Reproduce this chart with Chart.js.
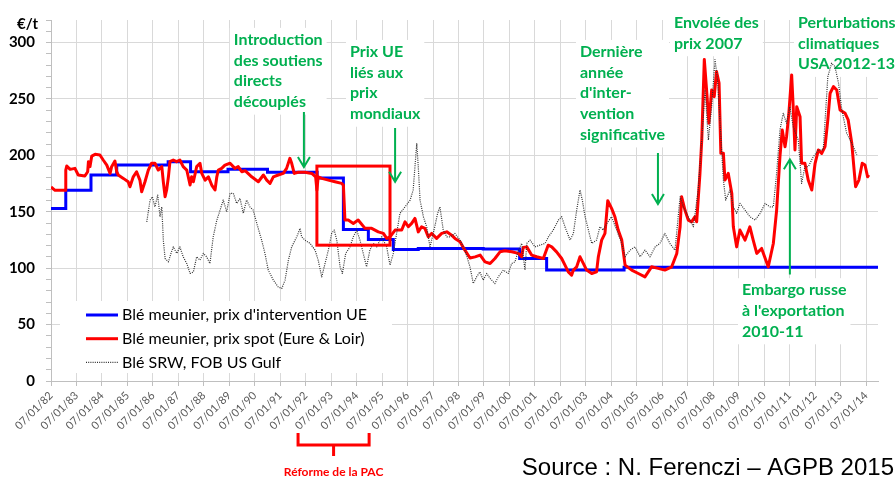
<!DOCTYPE html>
<html>
<head>
<meta charset="utf-8">
<script src="https://cdn.jsdelivr.net/npm/chart.js@4.4.0/dist/chart.umd.min.js"></script>
<style>
html, body { margin: 0; padding: 0; background: #fff; }
#wrap { width: 896px; height: 479px; position: relative; }
</style>
</head>
<body>
<div id="wrap"><canvas id="myChart"></canvas></div>
<script>
// tick labels, one per year (07/01/YY)
var tickLabels = ['07/01/82', '07/01/83', '07/01/84', '07/01/85', '07/01/86', '07/01/87', '07/01/88', '07/01/89',
    '07/01/90', '07/01/91', '07/01/92', '07/01/93', '07/01/94', '07/01/95', '07/01/96', '07/01/97', '07/01/98',
    '07/01/99', '07/01/00', '07/01/01', '07/01/02', '07/01/03', '07/01/04', '07/01/05', '07/01/06', '07/01/07',
    '07/01/08', '07/01/09', '07/01/10', '07/01/11', '07/01/12', '07/01/13', '07/01/14'];

// Blé meunier, prix d'intervention UE (step changes)
var interventionYears = [1982.0, 1982.58, 1983.57, 1984.58, 1986.6, 1987.48, 1988.95, 1990.5, 1992.45, 1993.48,
    1994.46, 1995.44, 1996.42, 1998.97, 2000.4, 2001.46, 2004.5, 2014.47];
var interventionPrices = [153, 169, 182.5, 191.5, 194.4, 185.5, 187.6, 185, 180, 134.4,
    125.5, 116.6, 117.5, 116.9, 108.5, 98.3, 100.8, 100.8];

// Blé meunier, prix spot (Eure & Loir)
var spotYears = [1982.0, 1982.16, 1982.55, 1982.58, 1982.62, 1982.75, 1982.94, 1983.07, 1983.33, 1983.44, 1983.47,
    1983.53, 1983.6, 1983.73, 1983.92, 1984.05, 1984.19, 1984.32, 1984.38, 1984.51, 1984.58, 1984.64, 1984.84,
    1985.03, 1985.1, 1985.23, 1985.36, 1985.49, 1985.56, 1985.69, 1985.82, 1985.95, 1986.08, 1986.21, 1986.35,
    1986.41, 1986.48, 1986.54, 1986.61, 1986.67, 1986.8, 1986.93, 1987.06, 1987.19, 1987.33, 1987.46, 1987.52,
    1987.59, 1987.72, 1987.85, 1987.92, 1988.05, 1988.18, 1988.31, 1988.44, 1988.51, 1988.57, 1988.7, 1988.83,
    1989.03, 1989.22, 1989.35, 1989.49, 1989.62, 1989.88, 1990.14, 1990.34, 1990.47, 1990.6, 1990.73, 1990.92,
    1991.12, 1991.25, 1991.38, 1991.45, 1991.55, 1991.71, 1991.97, 1992.24, 1992.39, 1992.44, 1992.49, 1992.63,
    1992.89, 1993.15, 1993.41, 1993.48, 1993.54, 1993.67, 1993.87, 1994.06, 1994.33, 1994.59, 1994.85, 1995.05,
    1995.18, 1995.31, 1995.51, 1995.77, 1995.9, 1996.03, 1996.16, 1996.29, 1996.42, 1996.55, 1996.68, 1996.81,
    1996.95, 1997.14, 1997.34, 1997.54, 1997.73, 1997.86, 1998.06, 1998.25, 1998.45, 1998.65, 1998.85, 1999.04,
    1999.24, 1999.43, 1999.63, 1999.82, 2000.09, 2000.35, 2000.48, 2000.54, 2000.68, 2000.87, 2001.07, 2001.33,
    2001.52, 2001.66, 2001.85, 2002.05, 2002.18, 2002.31, 2002.44, 2002.51, 2002.64, 2002.77, 2002.9, 2003.03,
    2003.23, 2003.42, 2003.49, 2003.62, 2003.75, 2003.86, 2004.01, 2004.14, 2004.27, 2004.41, 2004.54, 2004.8,
    2005.06, 2005.32, 2005.58, 2005.84, 2006.1, 2006.37, 2006.57, 2006.7, 2006.76, 2006.89, 2007.02, 2007.15,
    2007.28, 2007.35, 2007.48, 2007.55, 2007.65, 2007.74, 2007.83, 2007.94, 2008.04, 2008.13, 2008.23, 2008.3,
    2008.4, 2008.46, 2008.59, 2008.73, 2008.79, 2008.92, 2009.05, 2009.25, 2009.44, 2009.57, 2009.71, 2009.9,
    2010.16, 2010.36, 2010.49, 2010.62, 2010.71, 2010.82, 2010.88, 2010.97, 2011.08, 2011.14, 2011.21, 2011.28,
    2011.41, 2011.47, 2011.6, 2011.73, 2011.87, 2012.0, 2012.13, 2012.26, 2012.39, 2012.5, 2012.59, 2012.72,
    2012.85, 2012.98, 2013.18, 2013.3, 2013.44, 2013.59, 2013.72, 2013.85, 2013.96, 2014.06, 2014.11];
var spotPrices = [172, 169, 169, 187, 190.6, 187.6, 188.5, 182.6, 181.7, 185.5, 194.4,
    190, 199.4, 200.9, 200.3, 195.9, 191.4, 184, 190, 195, 185.5, 182.6, 179.6,
    176.6, 172.2, 181, 185.5, 178.1, 167.7, 176.6, 187, 193, 193, 187, 190,
    176.6, 163.3, 169.3, 181, 194.4, 195.9, 194.4, 195.9, 190, 187, 173.7, 181,
    176.6, 190, 193, 184, 178.1, 181, 173.7, 169.3, 181, 187, 188.5, 191.4,
    193, 188.5, 190, 185.5, 186.4, 181, 176.6, 182.6, 178.1, 175.2, 181, 182.6,
    184, 188.5, 197.4, 193, 184, 185, 185, 184, 181, 169.3, 181, 179.6,
    178.1, 176.6, 175.2, 173.7, 142.7, 142.7, 139.7, 142.7, 135.3, 135.3, 132.2, 130.8,
    126.4, 127.8, 133.8, 133.8, 141.1, 136.7, 139.7, 144.1, 132.2, 136.7, 135.3, 127.8,
    130.8, 126.4, 130.8, 132.2, 129.3, 126.4, 123.4, 116, 109, 110, 111.6, 105.6,
    104.2, 108.6, 114.5, 115.4, 114.5, 113.1, 110.1, 118.4, 118.9, 111.6, 110.1, 108.6,
    120.4, 118.9, 114.5, 108.6, 102.7, 96.7, 93.8, 98.3, 101.2, 110.1, 104.2, 98.3,
    95.3, 96.7, 110.1, 124.9, 130.8, 159.8, 153, 145.6, 133.8, 124.9, 102.7, 98.3,
    95.3, 92.3, 101.2, 99.8, 98.3, 101.2, 113.1, 136.7, 163.3, 151.5, 142.6, 141.1,
    145.6, 141.1, 184.1, 213.6, 285, 258, 228.5, 258, 252, 274.3, 264, 201.8,
    201.8, 178.1, 184.1, 166.3, 136.7, 118.9, 133.8, 124.9, 136.7, 124.9, 113.1, 117.5,
    101.2, 121.9, 151.5, 198.8, 222.5, 207.7, 216.6, 237.3, 271.3, 243.2, 204.8, 243.2,
    234.3, 193, 193, 178.1, 169.3, 193, 204.8, 201.8, 207.7, 231.4, 255.1, 260.9,
    258, 240.3, 237.3, 231.4, 210.7, 172.2, 178.1, 193, 191.5, 181, 182.6];

// Blé SRW, FOB US Gulf
var srwYears = [1985.76, 1985.89, 1985.98, 1986.08, 1986.19, 1986.28, 1986.35, 1986.41, 1986.48, 1986.61, 1986.71,
    1986.8, 1986.94, 1987.06, 1987.19, 1987.33, 1987.46, 1987.59, 1987.72, 1987.85, 1987.98, 1988.11, 1988.24,
    1988.37, 1988.51, 1988.64, 1988.76, 1988.9, 1989.03, 1989.16, 1989.29, 1989.42, 1989.55, 1989.68, 1989.81,
    1989.94, 1990.08, 1990.27, 1990.4, 1990.53, 1990.73, 1990.92, 1991.06, 1991.19, 1991.32, 1991.45, 1991.65,
    1991.78, 1991.84, 1991.97, 1992.17, 1992.37, 1992.49, 1992.63, 1992.76, 1992.89, 1993.02, 1993.12, 1993.22,
    1993.35, 1993.44, 1993.57, 1993.74, 1993.87, 1994.0, 1994.13, 1994.26, 1994.39, 1994.52, 1994.65, 1994.79,
    1994.98, 1995.18, 1995.31, 1995.44, 1995.57, 1995.7, 1995.9, 1996.1, 1996.22, 1996.36, 1996.42, 1996.49,
    1996.62, 1996.75, 1996.88, 1997.01, 1997.18, 1997.27, 1997.4, 1997.54, 1997.67, 1997.86, 1998.06, 1998.25,
    1998.45, 1998.58, 1998.71, 1998.84, 1998.97, 1999.11, 1999.24, 1999.43, 1999.56, 1999.76, 1999.95, 2000.09,
    2000.22, 2000.35, 2000.48, 2000.61, 2000.68, 2000.81, 2001.0, 2001.2, 2001.4, 2001.53, 2001.72, 2001.92,
    2002.05, 2002.18, 2002.38, 2002.51, 2002.64, 2002.77, 2002.86, 2002.97, 2003.1, 2003.23, 2003.42, 2003.55,
    2003.68, 2003.82, 2004.01, 2004.21, 2004.41, 2004.54, 2004.73, 2004.93, 2005.13, 2005.32, 2005.52, 2005.72,
    2005.91, 2006.1, 2006.3, 2006.5, 2006.7, 2006.83, 2007.02, 2007.22, 2007.41, 2007.55, 2007.68, 2007.81,
    2007.94, 2008.07, 2008.17, 2008.27, 2008.4, 2008.49, 2008.66, 2008.79, 2008.92, 2009.05, 2009.25, 2009.44,
    2009.64, 2009.84, 2010.04, 2010.23, 2010.36, 2010.49, 2010.62, 2010.75, 2010.88, 2011.01, 2011.14, 2011.34,
    2011.47, 2011.6, 2011.73, 2011.93, 2012.13, 2012.32, 2012.5, 2012.65, 2012.78, 2012.92, 2013.05, 2013.24,
    2013.44, 2013.64];
var srwPrices = [141, 160.4, 163.3, 154.4, 164.8, 145.6, 154.4, 124.9, 108.6, 105.6, 113.1,
    118.9, 113.1, 118.9, 110.1, 104.2, 95.3, 96.7, 110.1, 107.1, 113.1, 110.1, 104.2,
    127.8, 142.6, 151.5, 160.4, 150, 166.3, 166.3, 157.4, 161.9, 148.6, 160.4, 154.4,
    151.5, 139.7, 124.9, 113.1, 98.3, 89.4, 83.4, 82, 89.4, 107.1, 118.9, 127.8,
    135.3, 127.8, 124.9, 122, 116, 107.1, 92.3, 104.2, 116, 130.8, 133.8, 124.9,
    101.2, 95.3, 113.1, 118.9, 127.8, 133.8, 124.9, 113.1, 101.2, 116, 122, 118.9,
    127.8, 118.9, 102.7, 113.1, 130.8, 148.6, 154.4, 160.4, 169.3, 210.7, 189.9, 160.4,
    145.6, 136.7, 118.9, 130.8, 148.6, 154.4, 133.8, 127.8, 127.8, 130.8, 124.9, 116,
    101.2, 86.4, 92.3, 96.7, 89.4, 95.3, 90.9, 86.4, 92.3, 98.3, 95.3, 104.2,
    105.6, 116, 122, 98.3, 122, 124.9, 118.9, 120.4, 122, 127.8, 133.8, 142.6,
    145.6, 136.7, 124.9, 130.8, 151.5, 169.3, 160.4, 145.6, 133.8, 122, 124.9, 136.7,
    133.8, 139.7, 145.6, 133.8, 122, 110.1, 116, 118.9, 110.1, 116, 110.1, 118.9,
    122, 130.8, 122, 116, 163.3, 154.4, 145.6, 136.7, 169.3, 213.6, 258, 213.6,
    243.2, 285, 266.9, 228.5, 178.1, 160.4, 169.3, 154.4, 148.6, 157.4, 151.5, 145.6,
    142.6, 148.6, 157.4, 154.4, 154.4, 184.1, 222.5, 237.3, 228.5, 243.2, 225.4, 213.6,
    175.2, 189.9, 189.9, 198.8, 204.8, 204.8, 269.8, 281.7, 278.7, 264, 240.3, 219.6,
    210.7, 200.3];

var seriesLabels = ["Blé meunier, prix d'intervention UE", 'Blé meunier, prix spot (Eure & Loir)', 'Blé SRW, FOB US Gulf'];

var GREEN = '#00b050';
var RED = '#ff0000';

// texts placed at (year, value) of their first line
var notes = [
    { lines: ['Introduction', 'des soutiens', 'directs', 'découplés'], x: 1989.18, y: 302.4 },
    { lines: ['Prix UE', 'liés aux', 'prix', 'mondiaux'], x: 1993.74, y: 291.7 },
    { lines: ['Dernière', 'année', "d'inter-", 'vention', 'significative'], x: 2002.77, y: 291.7 },
    { lines: ['Envolée des', 'prix 2007'], x: 2006.46, y: 317.5 },
    { lines: ['Perturbations', 'climatiques', 'USA 2012-13'], x: 2011.33, y: 317.5 },
    { lines: ['Embargo russe', "à l'exportation", '2010-11'], x: 2009.13, y: 80.5 }
];
// arrows: x, from value, to value (head at "to")
var arrows = [
    { x: 1991.93, from: 238.5, to: 189.7 },
    { x: 1995.51, from: 224.3, to: 176.6 },
    { x: 2005.83, from: 202.1, to: 156.8 },
    { x: 2011.01, from: 94.5, to: 196.5 }
];
var reformBox = { x1: 1992.44, x2: 1995.31, y1: 190.5, y2: 120.4 };
var reformBracket = { x1: 1991.7, x2: 1994.49 };

function toPoints(xs, ys) {
    return xs.map(function(x, i) { return { x: x, y: ys[i] }; });
}

var annotationPlugin = {
    id: 'annotations',
    beforeDatasetsDraw: function(chart) {
        var ctx = chart.ctx;
        var xs = chart.scales.x, ys = chart.scales.y;
        ctx.save();
        ctx.font = 'bold 16px Lato';
        ctx.textBaseline = 'middle';
        notes.forEach(function(n) {
            var px = xs.getPixelForValue(n.x);
            var py = ys.getPixelForValue(n.y);
            var w = 0;
            n.lines.forEach(function(l) { w = Math.max(w, ctx.measureText(l).width); });
            ctx.fillStyle = '#fff';
            ctx.fillRect(px - 4, py - 12, w + 8, n.lines.length * 20.7 + 4);
            ctx.fillStyle = GREEN;
            n.lines.forEach(function(l, i) { ctx.fillText(l, px, py + i * 20.7); });
        });

        // legend inside the plot
        var area = chart.chartArea;
        var lx = area.left + 9, ly = area.bottom - 80;
        ctx.fillStyle = '#fff';
        ctx.fillRect(lx, ly, 332, 72);
        ctx.font = '16px Lato';
        chart.data.datasets.forEach(function(ds, i) {
            var y = ly + 14 + i * 23.7;
            ctx.strokeStyle = ds.borderColor;
            ctx.lineWidth = ds.borderWidth;
            ctx.setLineDash(ds.borderDash || []);
            ctx.beginPath();
            ctx.moveTo(area.left + 35, y);
            ctx.lineTo(area.left + 67, y);
            ctx.stroke();
            ctx.setLineDash([]);
            ctx.fillStyle = '#000';
            ctx.fillText(ds.label, area.left + 71, y);
        });
        ctx.restore();
    },
    afterDatasetsDraw: function(chart) {
        var ctx = chart.ctx;
        var xs = chart.scales.x, ys = chart.scales.y;
        var area = chart.chartArea;
        ctx.save();

        // reform rectangle
        ctx.strokeStyle = RED;
        ctx.lineWidth = 3;
        var rx1 = xs.getPixelForValue(reformBox.x1), rx2 = xs.getPixelForValue(reformBox.x2);
        var ry1 = ys.getPixelForValue(reformBox.y1), ry2 = ys.getPixelForValue(reformBox.y2);
        ctx.strokeRect(rx1, ry1, rx2 - rx1, ry2 - ry1);

        // arrows
        ctx.strokeStyle = GREEN;
        ctx.lineWidth = 2;
        arrows.forEach(function(a) {
            var x = xs.getPixelForValue(a.x);
            var y1 = ys.getPixelForValue(a.from), y2 = ys.getPixelForValue(a.to);
            var dir = y2 > y1 ? 1 : -1;
            ctx.beginPath();
            ctx.moveTo(x, y1);
            ctx.lineTo(x, y2);
            ctx.moveTo(x - 6, y2 - dir * 10);
            ctx.lineTo(x, y2);
            ctx.lineTo(x + 6, y2 - dir * 10);
            ctx.stroke();
        });

        // bracket under the axis
        var bx1 = xs.getPixelForValue(reformBracket.x1), bx2 = xs.getPixelForValue(reformBracket.x2);
        var bm = (bx1 + bx2) / 2;
        var b = area.bottom;
        ctx.strokeStyle = RED;
        ctx.lineWidth = 3;
        ctx.beginPath();
        ctx.moveTo(bx1, b + 52);
        ctx.lineTo(bx1, b + 64);
        ctx.lineTo(bx2, b + 64);
        ctx.lineTo(bx2, b + 52);
        ctx.moveTo(bm, b + 64);
        ctx.lineTo(bm, b + 75);
        ctx.stroke();
        ctx.fillStyle = RED;
        ctx.font = 'bold 12px Lato';
        ctx.textAlign = 'center';
        ctx.textBaseline = 'alphabetic';
        ctx.fillText('Réforme de la PAC', bm, b + 95);

        // unit label
        ctx.fillStyle = '#000';
        ctx.font = 'bold 15px Lato';
        ctx.textAlign = 'right';
        ctx.textBaseline = 'middle';
        ctx.fillText('€/t', 38, 24);

        // source
        ctx.font = '24px "Liberation Sans"';
        ctx.textBaseline = 'alphabetic';
        ctx.fillText('Source : N. Ferenczi – AGPB 2015', 894, 475);
        ctx.restore();
    }
};

window.onload = function() {
    var ctx = document.getElementById('myChart').getContext('2d');
    var myChart = new Chart(ctx, {
        type: 'line',
        data: {
            datasets: [{
                label: seriesLabels[0],
                data: toPoints(interventionYears, interventionPrices),
                borderColor: '#0000ff',
                borderWidth: 3,
                stepped: true,
                pointRadius: 0,
                order: 3
            },
            {
                label: seriesLabels[1],
                data: toPoints(spotYears, spotPrices),
                borderColor: RED,
                borderWidth: 3,
                borderJoinStyle: 'round',
                pointRadius: 0,
                order: 2
            },
            {
                label: seriesLabels[2],
                data: toPoints(srwYears, srwPrices),
                borderColor: '#303030',
                borderWidth: 1.2,
                borderDash: [1, 1.2],
                borderJoinStyle: 'round',
                pointRadius: 0,
                order: 1
            }]
        },
        options: {
            animation: false,
            responsive: true,
            maintainAspectRatio: false,
            layout: { padding: { left: 0, right: 18, top: 20, bottom: 0 } },
            plugins: { legend: { display: false }, tooltip: { enabled: false } },
            scales: {
                x: {
                    type: 'linear',
                    min: 1982,
                    max: 2014.47,
                    afterFit: function(s) { s.height = 98; },
                    border: { color: '#bfbfbf' },
                    grid: { color: '#d9d9d9', tickColor: '#bfbfbf', tickLength: 5 },
                    ticks: {
                        stepSize: 1,
                        autoSkip: false,
                        includeBounds: false,
                        minRotation: 45,
                        maxRotation: 45,
                        color: '#595959',
                        font: { family: 'Lato', size: 11 },
                        callback: function(v) { return tickLabels[Math.round(v) - 1982]; }
                    }
                },
                y: {
                    min: 0,
                    max: 320,
                    afterFit: function(s) { s.width = 51; },
                    border: { color: '#bfbfbf' },
                    grid: {
                        color: function(c) { return c.tick && c.tick.value % 50 === 0 ? '#d9d9d9' : 'rgba(0,0,0,0)'; },
                        tickColor: '#bfbfbf',
                        tickLength: 5
                    },
                    ticks: {
                        stepSize: 10,
                        autoSkip: false,
                        includeBounds: false,
                        padding: 11,
                        color: '#000',
                        font: { family: 'Lato', size: 15, weight: 'bold' },
                        callback: function(v) { return v % 50 === 0 ? v : ''; }
                    }
                }
            }
        },
        plugins: [annotationPlugin]
    });
};
</script>
</body>
</html>
